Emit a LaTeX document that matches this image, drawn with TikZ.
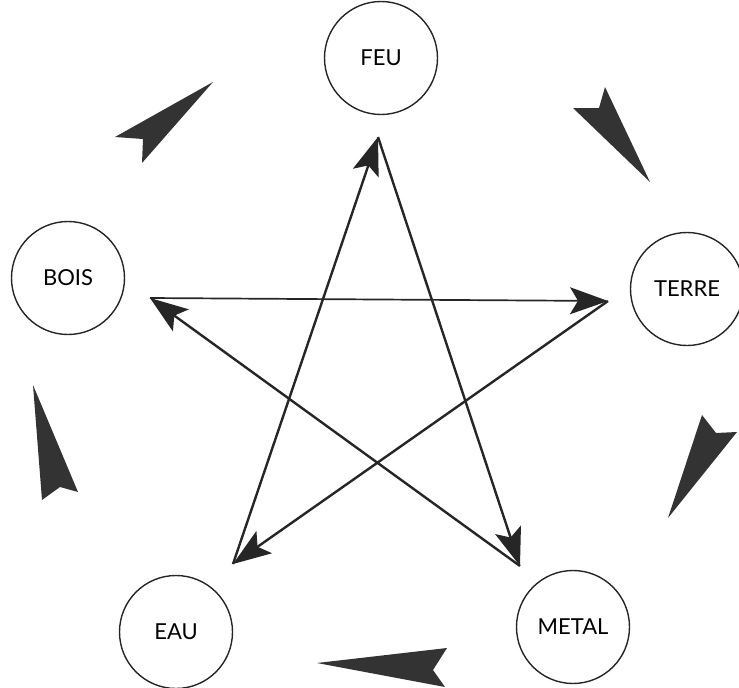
\documentclass[tikz,border=0pt]{standalone}
\usepackage{fontspec}
\setmainfont{Lato}
\usetikzlibrary{arrows.meta}
\begin{document}
\begin{tikzpicture}[x=1pt,y=-1pt,
  elem/.style={circle,draw=black!85,line width=1.4pt,minimum size=113pt,inner sep=0pt,font=\fontsize{22}{24}\selectfont},
  link/.style={draw=black!85,line width=2.4pt,-{Stealth[length=38pt,width=27pt,inset=8pt]}},
  dart/.style={fill=black!80,draw=none}]
\useasboundingbox (0,0) rectangle (739,688);
\node[elem] (feu) at (381,58) {FEU};
\node[elem] (terre) at (687,289) {TERRE};
\node[elem] (metal) at (573,627) {METAL};
\node[elem] (eau) at (176,632) {EAU};
\node[elem] (bois) at (68,278) {BOIS};
\coordinate (pF) at (378,137);
\coordinate (pT) at (608,301);
\coordinate (pM) at (520,566);
\coordinate (pE) at (233,564);
\coordinate (pB) at (150,298);
\draw[link] (pE) -- (pF);
\draw[link] (pF) -- (pM);
\draw[link] (pM) -- (pB);
\draw[link,line width=1.7pt] (pB) -- (pT);
\draw[link] (pT) -- (pE);
\fill[dart] (213,82) -- (115,137) -- (143,139) -- (142,163) -- cycle;
\fill[dart] (650,182) -- (573,108) -- (599,108) -- (605,87) -- cycle;
\fill[dart] (668,518) -- (702,415) -- (716,433) -- (737,432) -- cycle;
\fill[dart] (317,663) -- (447,648) -- (433,670) -- (445,687) -- cycle;
\fill[dart] (33,385) -- (78,492) -- (60,487) -- (42,500) -- cycle;
\end{tikzpicture}
\end{document}
